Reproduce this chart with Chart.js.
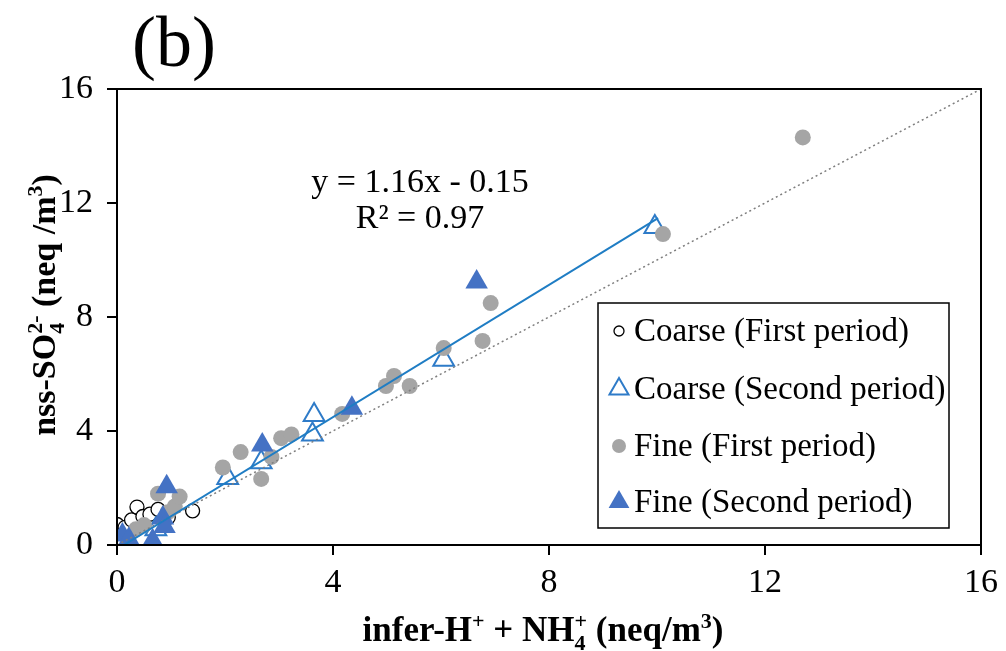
<!DOCTYPE html>
<html>
<head>
<meta charset="utf-8">
<script src="https://cdn.jsdelivr.net/npm/chart.js@4.4.1/dist/chart.umd.min.js"></script>
<style>
  body { margin: 0; background: #fff; }
  canvas { display: block; }
</style>
</head>
<body>
<canvas id="scatter" width="1006" height="651"></canvas>
<script>
// values: [infer-H+ + NH4+, nss-SO4 2-] in neq/m3
const coarseFirst = [
  [0.0, 0.0], [0.0, 0.42], [0.0, 0.72], [0.15, 0.62], [0.27, 0.88], [0.37, 1.33],
  [0.48, 1.0], [0.61, 1.08], [0.76, 1.25], [0.95, 0.97], [1.4, 1.2]
]
const coarseSecond = [
  [0.72, 0.55], [2.05, 2.35], [2.67, 2.9], [3.62, 3.88], [3.65, 4.56], [6.05, 6.5], [9.96, 11.16]
]
const fineFirst = [
  [0.35, 0.55], [0.5, 0.7], [0.76, 1.8], [0.94, 1.15], [1.07, 1.35], [1.16, 1.7],
  [1.96, 2.72], [2.29, 3.26], [2.67, 2.32], [2.86, 3.09], [3.04, 3.75], [3.23, 3.88],
  [4.17, 4.6], [4.98, 5.58], [5.13, 5.93], [5.42, 5.58], [6.05, 6.91], [6.77, 7.16],
  [6.92, 8.49], [10.11, 10.91], [12.7, 14.3]
]
const fineSecond = [
  [0.1, 0.35], [0.22, 0.2], [0.66, 0.15], [0.85, 0.95], [0.88, 0.65], [0.92, 2.04],
  [2.69, 3.51], [4.35, 4.8], [6.66, 9.23]
]
const trendLine = [[0.13, 0.0], [10.02, 11.47]]
const oneToOne = [[0, 0], [16, 16]]
const axisTicks = [0, 4, 8, 12, 16]
const seriesNames = ['Coarse (First period)', 'Coarse (Second period)', 'Fine (First period)', 'Fine (Second period)']

const toXY = (arr) => arr.map(([x, y]) => ({ x, y }))
const SERIF = '"Liberation Serif", "Times New Roman", serif'

// text with sub/superscripts (stacked when both are given)
function richRun(ctx, parts, size, weight, draw) {
  let x = 0
  const big = `${weight} ${size}px ${SERIF}`
  const small = `${weight} ${Math.round(size * 0.64)}px ${SERIF}`
  parts.forEach(p => {
    if (typeof p === 'string') {
      ctx.font = big
      if (draw) ctx.fillText(p, x, 0)
      x += ctx.measureText(p).width
    } else {
      ctx.font = small
      let w = 0
      if (p.sub) {
        if (draw) ctx.fillText(p.sub, x, size * 0.26)
        w = ctx.measureText(p.sub).width
      }
      if (p.sup) {
        if (draw) ctx.fillText(p.sup, x, -size * 0.38)
        w = Math.max(w, ctx.measureText(p.sup).width)
      }
      x += w
    }
  })
  return x
}

function drawRich(ctx, parts, cx, cy, size, weight, rot) {
  ctx.save()
  ctx.translate(cx, cy)
  if (rot) ctx.rotate(rot)
  ctx.textAlign = 'left'
  ctx.textBaseline = 'alphabetic'
  ctx.fillStyle = '#000'
  const w = richRun(ctx, parts, size, weight, false)
  ctx.translate(-w / 2, 0)
  richRun(ctx, parts, size, weight, true)
  ctx.restore()
}

const decorations = {
  id: 'decorations',
  afterDatasetsDraw(chart) {
    const { ctx, chartArea: a } = chart
    ctx.save()
    ctx.strokeStyle = '#000'
    ctx.lineWidth = 2
    ctx.strokeRect(a.left, a.top, a.right - a.left, a.bottom - a.top)

    // panel label
    ctx.fillStyle = '#000'
    ctx.font = `72px ${SERIF}`
    ctx.textBaseline = 'alphabetic'
    ctx.fillText('(b)', 132, 66)

    // trendline equation
    ctx.font = `34px ${SERIF}`
    ctx.textAlign = 'center'
    ctx.fillText('y = 1.16x - 0.15', 420, 192)
    ctx.fillText('R\u00B2 = 0.97', 420, 228)

    // axis titles
    drawRich(ctx, ['infer-H', { sup: '+' }, ' + NH', { sub: '4', sup: '+' }, ' (neq/m', { sup: '3' }, ')'],
      543, 641, 35, 'bold', 0)
    drawRich(ctx, ['nss-SO', { sub: '4', sup: '2-' }, ' (neq /m', { sup: '3' }, ')'],
      55, 305, 34, 'bold', -Math.PI / 2)

    // legend
    const lx = 598, ly = 303, lw = 351, lh = 225
    ctx.fillStyle = '#fff'
    ctx.fillRect(lx, ly, lw, lh)
    ctx.lineWidth = 1.5
    ctx.strokeStyle = '#000'
    ctx.strokeRect(lx, ly, lw, lh)
    const rows = [331, 389, 446, 502]
    chart.data.datasets.slice(0, 4).forEach((ds, i) => {
      ctx.fillStyle = ds.backgroundColor
      ctx.strokeStyle = ds.borderColor
      ctx.lineWidth = ds.borderWidth
      Chart.helpers.drawPoint(ctx, {
        pointStyle: ds.pointStyle, radius: ds.legendRadius, rotation: 0, borderWidth: ds.borderWidth
      }, 619, rows[i])
      ctx.fillStyle = '#000'
      ctx.font = `33px ${SERIF}`
      ctx.textAlign = 'left'
      ctx.textBaseline = 'middle'
      ctx.fillText(ds.label, 634, rows[i] + 1)
    })
    ctx.restore()
  }
}

new Chart(document.getElementById('scatter'), {
  type: 'scatter',
  data: {
    datasets: [
      {
        label: seriesNames[0], data: toXY(coarseFirst), order: 6,
        pointStyle: 'circle', pointRadius: 7, legendRadius: 5,
        backgroundColor: '#fff', borderColor: '#000', borderWidth: 1.3
      },
      {
        label: seriesNames[1], data: toXY(coarseSecond), order: 5,
        pointStyle: 'triangle', pointRadius: 12, legendRadius: 11,
        backgroundColor: '#fff', borderColor: '#2E7BC8', borderWidth: 2
      },
      {
        label: seriesNames[2], data: toXY(fineFirst), order: 4,
        pointStyle: 'circle', pointRadius: 8, legendRadius: 7,
        backgroundColor: '#A5A5A5', borderColor: '#A5A5A5', borderWidth: 0
      },
      {
        label: seriesNames[3], data: toXY(fineSecond), order: 3,
        pointStyle: 'triangle', pointRadius: 13, legendRadius: 12,
        backgroundColor: '#4472C4', borderColor: '#4472C4', borderWidth: 0
      },
      {
        label: 'Linear fit', type: 'line', data: toXY(trendLine), order: 1,
        borderColor: '#1F7DC4', borderWidth: 2, pointRadius: 0, fill: false
      },
      {
        label: '1:1', type: 'line', data: toXY(oneToOne), order: 2,
        borderColor: '#7F7F7F', borderWidth: 1.5, borderDash: [2, 3], pointRadius: 0, fill: false
      }
    ]
  },
  plugins: [decorations],
  options: {
    responsive: false,
    animation: false,
    layout: { padding: { top: 89, right: 23, left: 0, bottom: 0 } },
    plugins: { legend: { display: false }, tooltip: { enabled: false } },
    scales: {
      x: {
        type: 'linear', min: 0, max: 16,
        afterBuildTicks: (s) => { s.ticks = axisTicks.map(v => ({ value: v })) },
        afterFit: (s) => { s.height = 106 },
        grid: { drawOnChartArea: false, tickLength: 10, color: '#000', lineWidth: 2 },
        border: { display: false },
        ticks: { color: '#000', padding: 8, font: { family: SERIF, size: 34 } }
      },
      y: {
        type: 'linear', min: 0, max: 16,
        afterBuildTicks: (s) => { s.ticks = axisTicks.map(v => ({ value: v })) },
        afterFit: (s) => { s.width = 117 },
        grid: { drawOnChartArea: false, tickLength: 10, color: '#000', lineWidth: 2 },
        border: { display: false },
        ticks: { color: '#000', padding: 14, font: { family: SERIF, size: 34 } }
      }
    }
  }
})
</script>
</body>
</html>
